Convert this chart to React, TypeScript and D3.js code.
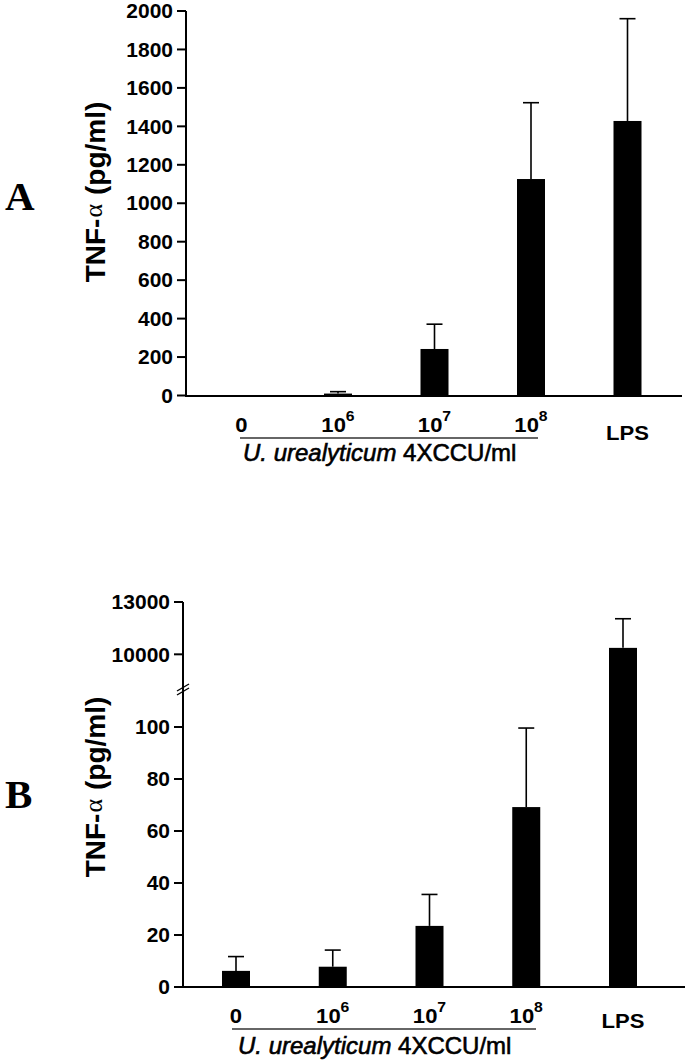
import React from "react";
import * as d3 from "d3";

const categories = ["0", "1e6", "1e7", "1e8", "LPS"];
const labelBase = ["0", "10", "10", "10", "LPS"];
const labelExp = ["", "6", "7", "8", ""];
const meanA = [0, 10, 242, 1126, 1428];
const errTopA = [0, 20, 371, 1523, 1960];
const meanB = [6.2, 7.8, 23.5, 69.2, 10370];
const errTopB = [11.7, 14.2, 35.6, 99.6, 12040];
const ticksA = [0, 200, 400, 600, 800, 1000, 1200, 1400, 1600, 1800, 2000];
const ticksBLow = [0, 20, 40, 60, 80, 100];
const ticksBHigh = [10000, 13000];
const subtitleItalic = "U. urealyticum";
const subtitleRest = "4XCCU/ml";
const yTitleA = "TNF-";
const yTitleAlpha = "α";
const yTitleUnit = "(pg/ml)";

const SANS = "'Liberation Sans', Arial, Helvetica, sans-serif";
const SERIF = "'Liberation Serif', 'Times New Roman', serif";
const SX = 1.05;
const FS = 20;

type PanelProps = {
  letter: string;
  letterY: number;
  axisX: number;
  axisTop: number;
  baseY: number;
  axisRight: number;
  y: (v: number) => number;
  ticks: number[];
  xRange: [number, number];
  means: number[];
  errs: number[];
  labelY: number;
  lpsY: number;
  underline: [number, number, number];
  subX: number;
  subY: number;
  titleCY: number;
  breakY?: number;
};

function Panel(p: PanelProps) {
  const x = d3.scalePoint<string>().domain(categories).range(p.xRange);
  const bw = 28;
  const cap = 16;
  return (
    <g>
      <text x={5} y={p.letterY} fontFamily={SERIF} fontWeight="bold" fontSize={41}>
        {p.letter}
      </text>
      <g transform={`translate(105,${p.titleCY}) rotate(-90)`}>
        <text textAnchor="middle" fontFamily={SANS} fontWeight="bold" fontSize={28}>
          <tspan>{yTitleA}</tspan>
          <tspan fontFamily={SERIF} fontWeight="normal" fontSize={26} dy={-3} dx={1}>
            {yTitleAlpha}
          </tspan>
          <tspan dy={3} dx={9}>{yTitleUnit}</tspan>
        </text>
      </g>
      {categories.map((c, i) => {
        const cx = x(c) as number;
        const top = p.y(p.means[i]);
        const et = p.y(p.errs[i]);
        return (
          <g key={c}>
            {p.errs[i] > p.means[i] && (
              <g stroke="#000" strokeWidth={1.6}>
                <line x1={cx} x2={cx} y1={top} y2={et} />
                <line x1={cx - cap / 2} x2={cx + cap / 2} y1={et} y2={et} />
              </g>
            )}
            {p.means[i] > 0 && (
              <rect x={cx - bw / 2} y={top} width={bw} height={p.baseY - top} fill="#000" />
            )}
          </g>
        );
      })}
      <line x1={p.axisX} x2={p.axisX} y1={p.axisTop} y2={p.baseY} stroke="#000" strokeWidth={2} />
      <line x1={p.axisX - 1} x2={p.axisRight} y1={p.baseY} y2={p.baseY} stroke="#000" strokeWidth={2} />
      {p.ticks.map((t) => {
        const ty = p.y(t);
        return (
          <g key={t}>
            <line x1={p.axisX - 9} x2={p.axisX} y1={ty} y2={ty} stroke="#000" strokeWidth={2} />
            <text
              transform={`translate(${p.axisX - 13},${ty + 7.2}) scale(${SX},1)`}
              textAnchor="end"
              fontFamily={SANS}
              fontWeight="bold"
              fontSize={FS}
            >
              {t}
            </text>
          </g>
        );
      })}
      {p.breakY !== undefined && (
        <g stroke="#000" strokeWidth={1.4}>
          <line x1={p.axisX - 6} x2={p.axisX + 6} y1={p.breakY + 2} y2={p.breakY - 5} />
          <line x1={p.axisX - 6} x2={p.axisX + 6} y1={p.breakY + 6} y2={p.breakY - 1} />
        </g>
      )}
      {categories.map((c, i) => (
        <text
          key={c}
          transform={`translate(${x(c)},${labelBase[i] === "LPS" ? p.lpsY : p.labelY}) scale(${SX},1)`}
          textAnchor="middle"
          fontFamily={SANS}
          fontWeight="bold"
          fontSize={21}
        >
          <tspan>{labelBase[i]}</tspan>
          {labelExp[i] && (
            <tspan fontSize={15} dy={-11}>
              {labelExp[i]}
            </tspan>
          )}
        </text>
      ))}
      <line
        x1={p.underline[0]}
        x2={p.underline[1]}
        y1={p.underline[2]}
        y2={p.underline[2]}
        stroke="#333"
        strokeWidth={1.6}
      />
      <text x={p.subX} y={p.subY} fontFamily={SANS} fontSize={24} stroke="#000" strokeWidth={0.6}>
        <tspan fontStyle="italic">{subtitleItalic}</tspan>
        <tspan> {subtitleRest}</tspan>
      </text>
    </g>
  );
}

export default function App() {
  const yA = d3.scaleLinear().domain([0, 2000]).range([395.5, 11]);
  const yB = d3
    .scaleLinear()
    .domain([0, 114, 7920, 13000])
    .range([987, 690.6, 690.6, 602]);
  return (
    <svg
      width={685}
      height={1062}
      style={{ position: "absolute", left: 0, top: 0, background: "#fff" }}
    >
      <rect width={685} height={1062} fill="#fff" />
      <Panel
        letter="A"
        letterY={210}
        axisX={186}
        axisTop={11}
        baseY={396}
        axisRight={682}
        y={yA}
        ticks={ticksA}
        xRange={[241.5, 627.5]}
        means={meanA}
        errs={errTopA}
        labelY={432}
        lpsY={440}
        underline={[240, 538, 438]}
        subX={243}
        subY={461}
        titleCY={192}
      />
      <Panel
        letter="B"
        letterY={808}
        axisX={183}
        axisTop={602}
        baseY={987}
        axisRight={685}
        y={yB}
        ticks={[...ticksBLow, ...ticksBHigh]}
        xRange={[236, 623]}
        means={meanB}
        errs={errTopB}
        labelY={1023}
        lpsY={1028}
        underline={[232, 536, 1029]}
        subX={238}
        subY={1054}
        titleCY={787}
        breakY={689}
      />
    </svg>
  );
}
